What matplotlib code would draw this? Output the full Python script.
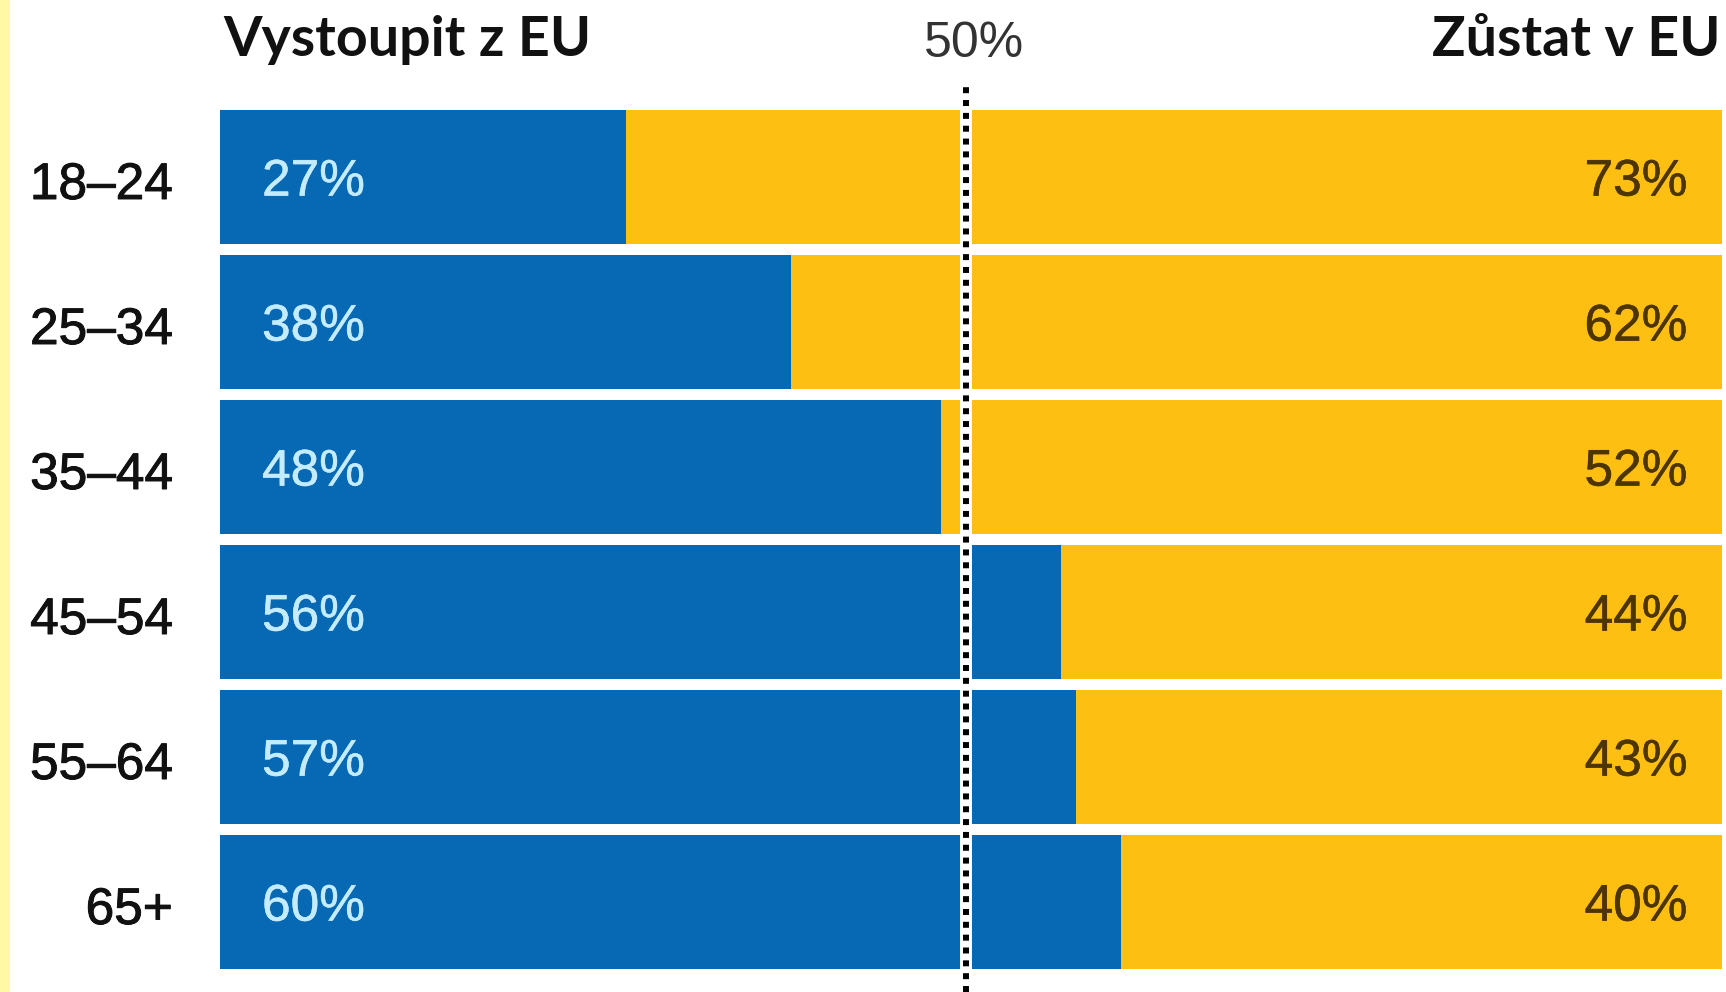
import matplotlib.pyplot as plt
import matplotlib.patheffects as pe
from matplotlib.patches import Rectangle
from matplotlib.transforms import ScaledTranslation

# data
ages = ["18–24", "25–34", "35–44", "45–54", "55–64", "65+"]
leave = [27, 38, 48, 56, 57, 60]
remain = [73, 62, 52, 44, 43, 40]

blue = "#0768b3"
yellow = "#fdbf12"

W, H = 1726, 992
fig = plt.figure(figsize=(W / 100, H / 100), dpi=100)

# pale yellow stripe on the far left
fig.add_artist(Rectangle((0, 0), 10 / W, 1, transform=fig.transFigure,
                         color="#fff9a6", lw=0))

left, right, top, bottom = 220, 1722, 110, 969
ax = fig.add_axes([left / W, (H - bottom) / H, (right - left) / W, (bottom - top) / H])

pos = list(range(len(ages)))
bh = 0.924
ax.barh(pos, leave, height=bh, color=blue, lw=0)
ax.barh(pos, remain, left=leave, height=bh, color=yellow, lw=0)

ax.set_xlim(0, 100)
ax.set_ylim(len(ages) - 1 + bh / 2, -bh / 2)


def thick(c, w=1.0):
    return [pe.withStroke(linewidth=w, foreground=c)]


for i in pos:
    ax.text(2.8, i + 0.035, f"{leave[i]}%", ha="left", va="center", fontsize=37,
            color="#c4ecff", family="Liberation Sans", path_effects=thick("#c4ecff", 0.4))
    ax.text(97.7, i + 0.035, f"{remain[i]}%", ha="right", va="center", fontsize=37,
            color="#4d3500", family="Liberation Sans", path_effects=thick("#4d3500", 0.4))

ax.set_yticks(pos)
ax.set_yticklabels(ages, fontsize=37, family="Liberation Sans", color="#111111")
ax.tick_params(axis="y", length=0, pad=34)
shift = ScaledTranslation(0, -0.03, fig.dpi_scale_trans)
for lbl in ax.get_yticklabels():
    lbl.set_transform(lbl.get_transform() + shift)
    lbl.set_path_effects(thick("#111111", 0.7))
ax.set_xticks([])
for s in ax.spines.values():
    s.set_visible(False)

# 50% marker: white strip with a dotted line on top
y0 = -(H - bottom) / (bottom - top)
y1 = 1 + (top - 83) / (bottom - top)
ax.axvline(49.7, ymin=y0, ymax=y1, color="white", lw=8.6, clip_on=False)
ax.axvline(49.7, ymin=y0, ymax=y1, color="black", lw=4.3,
           linestyle=(0, (1, 1.15)), clip_on=False)

fig.text(223 / W, 1 - 40 / H, "Vystoupit z EU", ha="left", va="center",
         fontsize=40, fontweight="bold", family="Lato", color="#111111")
fig.text(1720 / W, 1 - 40 / H, "Zůstat v EU", ha="right", va="center",
         fontsize=40, fontweight="bold", family="Lato", color="#111111")
fig.text(974 / W, 1 - 44 / H, "50%", ha="center", va="center",
         fontsize=36, family="Liberation Sans", color="#333333")

fig.savefig("out.png", dpi=100)
